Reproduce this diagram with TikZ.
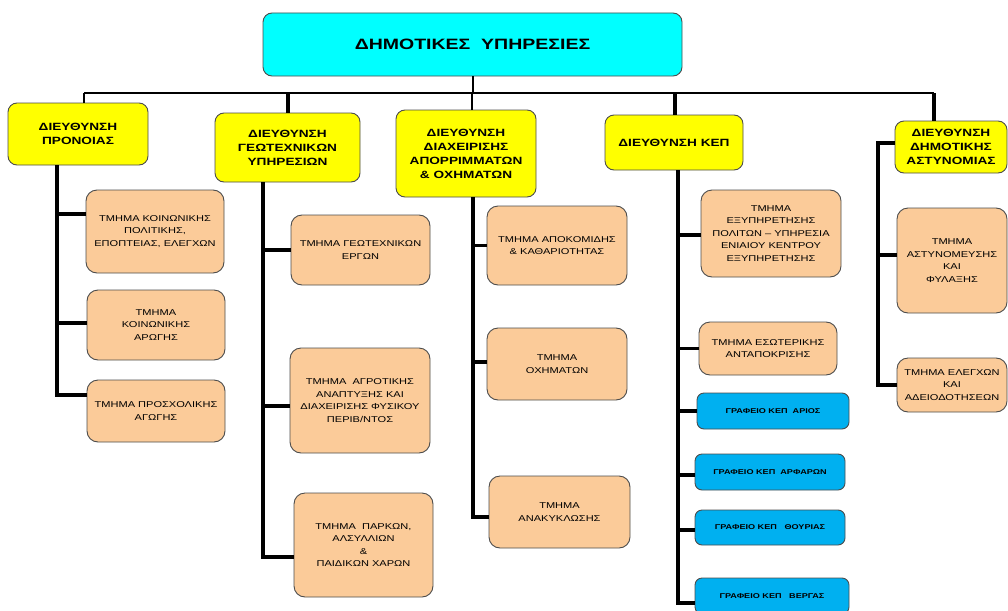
\documentclass[tikz,border=0pt]{standalone}
\usepackage{fontspec}
\setmainfont{Liberation Sans}[FakeStretch=1.3]
\usepackage{xcolor}
\usepackage{tikz}
\usetikzlibrary{positioning,calc}
\definecolor{topcyan}{HTML}{00FFFF}
\definecolor{headyellow}{HTML}{FFFF00}
\definecolor{deptpeach}{HTML}{FBCB99}
\definecolor{officeblue}{HTML}{00B0F0}
\newcommand\titlefont{\fontsize{15}{18}\selectfont\bfseries}
\newcommand\headfont{\fontsize{10.5}{14}\selectfont\bfseries}
\newcommand\deptfont{\fontsize{8.5}{12.5}\selectfont}
\newcommand\officefont{\fontsize{7}{9}\selectfont\bfseries}
\tikzset{
  orgtop/.style={rectangle, rounded corners=9pt, draw=black!70, line width=0.9pt, fill=topcyan, align=center, font=\titlefont},
  orghead/.style={rectangle, rounded corners=9pt, draw=black!70, line width=0.9pt, fill=headyellow, align=center, font=\headfont, inner sep=2pt},
  orgdept/.style={rectangle, rounded corners=11pt, draw=black!70, line width=0.9pt, fill=deptpeach, align=center, font=\deptfont, inner sep=2pt},
  orgoffice/.style={rectangle, rounded corners=7pt, draw=black!70, line width=0.9pt, fill=officeblue, align=center, font=\officefont, inner sep=2pt},
  boxsize/.style 2 args={minimum width=#1, minimum height=#2},
  busline/.style={line width=2pt},
  dropline/.style={line width=4pt},
  trunkline/.style={line width=3.5pt}
}
\begin{document}
\begin{tikzpicture}[x=1pt,y=-1pt]
\useasboundingbox (0,0) rectangle (1008,610);
% top
\node[orgtop, boxsize={419}{63}] (top) at (472.5,44.5) {ΔΗΜΟΤΙΚΕΣ\ \ ΥΠΗΡΕΣΙΕΣ};
% directorates
\node[orghead, boxsize={140}{62}] (d1) at (78,134) {ΔΙΕΥΘΥΝΣΗ\\ΠΡΟΝΟΙΑΣ};
\node[orghead, boxsize={145}{69}] (d2) at (287.5,147.5) {ΔΙΕΥΘΥΝΣΗ\\ΓΕΩΤΕΧΝΙΚΩΝ\\ΥΠΗΡΕΣΙΩΝ};
\node[orghead, boxsize={140}{87}] (d3) at (466,153.5) {ΔΙΕΥΘΥΝΣΗ\\ΔΙΑΧΕΙΡΙΣΗΣ\\ΑΠΟΡΡΙΜΜΑΤΩΝ\\\& ΟΧΗΜΑΤΩΝ};
\node[orghead, boxsize={138}{55}] (d4) at (674,142.5) {ΔΙΕΥΘΥΝΣΗ ΚΕΠ};
\node[orghead, boxsize={112}{52}] (d5) at (951,147) {ΔΙΕΥΘΥΝΣΗ\\ΔΗΜΟΤΙΚΗΣ\\ΑΣΤΥΝΟΜΙΑΣ};
% departments
\node[orgdept, boxsize={138}{83}] (a1) at (155,231.5) {ΤΜΗΜΑ ΚΟΙΝΩΝΙΚΗΣ\\ΠΟΛΙΤΙΚΗΣ,\\ΕΠΟΠΤΕΙΑΣ, ΕΛΕΓΧΩΝ};
\node[orgdept, boxsize={138}{70}] (a2) at (156,325) {ΤΜΗΜΑ\\ΚΟΙΝΩΝΙΚΗΣ\\ΑΡΩΓΗΣ};
\node[orgdept, boxsize={138}{62}] (a3) at (156,411) {ΤΜΗΜΑ ΠΡΟΣΧΟΛΙΚΗΣ\\ΑΓΩΓΗΣ};
\node[orgdept, boxsize={139}{70}] (b1) at (360.5,250) {ΤΜΗΜΑ ΓΕΩΤΕΧΝΙΚΩΝ\\ΕΡΓΩΝ};
\node[orgdept, boxsize={140}{105}] (b2) at (360,400.5) {ΤΜΗΜΑ\ \ ΑΓΡΟΤΙΚΗΣ\\ΑΝΑΠΤΥΞΗΣ ΚΑΙ\\ΔΙΑΧΕΙΡΙΣΗΣ ΦΥΣΙΚΟΥ\\ΠΕΡΙΒ/ΝΤΟΣ};
\node[orgdept, boxsize={139}{104}] (b3) at (363.5,545) {ΤΜΗΜΑ\ \ ΠΑΡΚΩΝ,\\ΑΛΣΥΛΛΙΩΝ\\\&\\ΠΑΙΔΙΚΩΝ ΧΑΡΩΝ};
\node[orgdept, boxsize={140}{79}] (c1) at (557,245.5) {ΤΜΗΜΑ ΑΠΟΚΟΜΙΔΗΣ\\\& ΚΑΘΑΡΙΟΤΗΤΑΣ};
\node[orgdept, boxsize={140}{72}] (c2) at (557,364) {ΤΜΗΜΑ\\ΟΧΗΜΑΤΩΝ};
\node[orgdept, boxsize={141}{72}] (c3) at (559.5,512) {ΤΜΗΜΑ\\ΑΝΑΚΥΚΛΩΣΗΣ};
\node[orgdept, boxsize={140}{87}] (e1) at (771,233.5) {ΤΜΗΜΑ\\ΕΞΥΠΗΡΕΤΗΣΗΣ\\ΠΟΛΙΤΩΝ – ΥΠΗΡΕΣΙΑ\\ΕΝΙΑΙΟΥ ΚΕΝΤΡΟΥ\\ΕΞΥΠΗΡΕΤΗΣΗΣ};
\node[orgdept, boxsize={138}{53}] (e2) at (768,348.5) {ΤΜΗΜΑ ΕΣΩΤΕΡΙΚΗΣ\\ΑΝΤΑΠΟΚΡΙΣΗΣ};
\node[orgoffice, boxsize={152}{36}] (f1) at (773,411) {ΓΡΑΦΕΙΟ ΚΕΠ\ \ ΑΡΙΟΣ};
\node[orgoffice, boxsize={150}{36}] (f2) at (770,472) {ΓΡΑΦΕΙΟ ΚΕΠ\ \ ΑΡΦΑΡΩΝ};
\node[orgoffice, boxsize={150}{35}] (f3) at (770,527.5) {ΓΡΑΦΕΙΟ ΚΕΠ\ \ \ ΘΟΥΡΙΑΣ};
\node[orgoffice, boxsize={154}{36}] (f4) at (772,596) {ΓΡΑΦΕΙΟ ΚΕΠ\ \ \ ΒΕΡΓΑΣ};
\node[orgdept, boxsize={110}{105}] (g1) at (952,260.5) {ΤΜΗΜΑ\\ΑΣΤΥΝΟΜΕΥΣΗΣ\\ΚΑΙ\\ΦΥΛΑΞΗΣ};
\node[orgdept, boxsize={110}{54}] (g2) at (952,385) {ΤΜΗΜΑ ΕΛΕΓΧΩΝ\\ΚΑΙ\\ΑΔΕΙΟΔΟΤΗΣΕΩΝ};
% bus and drops
\coordinate (j1) at (84,93);
\coordinate (j2) at (288,93);
\coordinate (j3) at (472,93);
\coordinate (j4) at (675,93);
\coordinate (j5) at (934,93);
\draw[busline] (j1) -- (j5);
\draw[busline] (top.south) -- (top.south |- j3);
\draw[busline] (j1) -- (j1 |- d1.north);
\draw[dropline] (j2) -- (j2 |- d2.north);
\draw[busline] (j3) -- (j3 |- d3.north);
\draw[dropline] (j4) -- (j4 |- d4.north);
\draw[dropline] (j5) -- (j5 |- d5.north);
% trunks
\coordinate (tr1) at (57,0);
\coordinate (tr2) at (263,0);
\coordinate (tr3) at (473,0);
\coordinate (tr4) at (678,0);
\coordinate (tr5) at (878,143);
\draw[trunkline] (d1.south -| tr1) |- ([yshift=17.5pt]a1.west);
\draw[trunkline] (d1.south -| tr1) |- ([yshift=2pt]a2.west);
\draw[trunkline] (d1.south -| tr1) |- ([yshift=16pt]a3.west);
\draw[trunkline] (d2.south -| tr2) |- (b1.west);
\draw[trunkline] (d2.south -| tr2) |- ([yshift=-5.5pt]b2.west);
\draw[trunkline] (d2.south -| tr2) |- ([yshift=-12pt]b3.west);
\draw[trunkline] (d3.south -| tr3) |- (c1.west);
\draw[trunkline] (d3.south -| tr3) |- ([yshift=2pt]c2.west);
\draw[trunkline] (d3.south -| tr3) |- ([yshift=-5pt]c3.west);
\draw[trunkline] (d4.south -| tr4) |- ([yshift=-1.5pt]e1.west);
\draw[trunkline] (d4.south -| tr4) |- (e2.west);
\draw[trunkline] (d4.south -| tr4) |- (f1.west);
\draw[trunkline] (d4.south -| tr4) |- ([yshift=-3pt]f2.west);
\draw[trunkline] (d4.south -| tr4) |- ([yshift=-2.5pt]f3.west);
\draw[trunkline] (d4.south -| tr4) |- ([yshift=-7pt]f4.west);
\draw[trunkline] ([yshift=4pt]d5.west) -- (tr5) |- ([yshift=5.5pt]g1.west);
\draw[trunkline] (tr5) |- (g2.west);
\end{tikzpicture}
\end{document}
